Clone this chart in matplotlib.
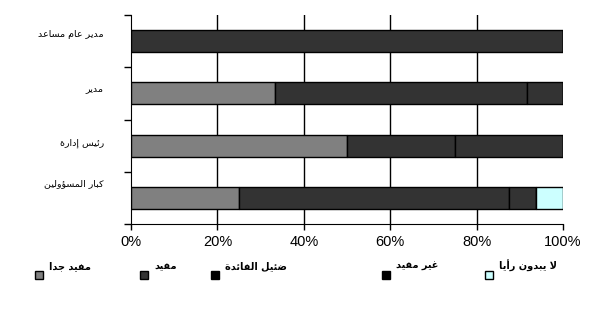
import matplotlib.pyplot as plt
from matplotlib.ticker import PercentFormatter

# --- data ---
groups = ["مدير عام مساعد", "مدير", "رئيس إدارة", "كبار المسؤولين"]
series = ["مفيد جدا", "مفيد", "ضئيل الفائدة", "غير مفيد", "لا يبدون رأيا"]
very_useful = [0.0, 33.3, 50.0, 25.0]
useful = [100.0, 58.4, 25.0, 62.5]
little_use = [0.0, 8.3, 25.0, 6.25]
not_useful = [0.0, 0.0, 0.0, 0.0]
no_opinion = [0.0, 0.0, 0.0, 6.25]

bar_colors = ["#808080", "#333333", "#333333", "#333333", "#CCFFFF"]
legend_colors = ["#808080", "#333333", "#000000", "#000000", "#CCFFFF"]

# --- simple arabic shaping (matplotlib has no bidi / joining) ---
_order = [(0x621, 1), (0x622, 2), (0x623, 2), (0x624, 2), (0x625, 2), (0x626, 4),
          (0x627, 2), (0x628, 4), (0x629, 2), (0x62A, 4), (0x62B, 4), (0x62C, 4),
          (0x62D, 4), (0x62E, 4), (0x62F, 2), (0x630, 2), (0x631, 2), (0x632, 2),
          (0x633, 4), (0x634, 4), (0x635, 4), (0x636, 4), (0x637, 4), (0x638, 4),
          (0x639, 4), (0x63A, 4), (0x641, 4), (0x642, 4), (0x643, 4), (0x644, 4),
          (0x645, 4), (0x646, 4), (0x647, 4), (0x648, 2), (0x649, 2), (0x64A, 4)]
FORMS = {}
_p = 0xFE80
for cp, n in _order:
    FORMS[chr(cp)] = (_p, n)
    _p += n
LAM_ALEF = {"\u0622": 0xFEF5, "\u0623": 0xFEF7, "\u0625": 0xFEF9, "\u0627": 0xFEFB}


def shape(text):
    out = []
    prev_joins = False
    i = 0
    while i < len(text):
        c = text[i]
        if c not in FORMS:
            out.append(c)
            prev_joins = False
            i += 1
            continue
        nxt = text[i + 1] if i + 1 < len(text) else ""
        if c == "\u0644" and nxt in LAM_ALEF:
            out.append(chr(LAM_ALEF[nxt] + (1 if prev_joins else 0)))
            prev_joins = False
            i += 2
            continue
        base, n = FORMS[c]
        next_ar = nxt in FORMS
        if n == 4:
            if prev_joins and next_ar:
                f = 3
            elif prev_joins:
                f = 1
            elif next_ar:
                f = 2
            else:
                f = 0
        elif n == 2:
            f = 1 if prev_joins else 0
        else:
            f = 0
        out.append(chr(base + f))
        prev_joins = (n == 4)
        i += 1
    return "".join(reversed(out))


plt.rcParams['font.family'] = ['DejaVu Sans']

fig = plt.figure(figsize=(6.13, 3.34), dpi=100)
ax = fig.add_axes([131 / 613, 110 / 334, 432 / 613, 209 / 334])

ypos = list(range(len(groups)))
left = [0.0] * len(groups)
for vals, col in zip([very_useful, useful, little_use, not_useful, no_opinion], bar_colors):
    ax.barh(ypos, vals, left=left, height=0.42, color=col, edgecolor="black", linewidth=1, zorder=3)
    left = [a + b for a, b in zip(left, vals)]

ax.set_xlim(0, 100)
ax.set_ylim(len(groups) - 0.5, -0.5)
ax.xaxis.set_major_formatter(PercentFormatter(decimals=0))
ax.set_xticks([0, 20, 40, 60, 80, 100])
for x in [20, 40, 60, 80]:
    ax.axvline(x, color="black", linewidth=1, zorder=1)
for lab in ax.get_xticklabels():
    lab.set_fontfamily("Liberation Sans")
    lab.set_fontsize(10.5)
ax.tick_params(axis="x", length=4, width=1, pad=4, color="black")

ax.set_yticks([-0.5, 0.5, 1.5, 2.5, 3.5])
ax.set_yticklabels([])
ax.tick_params(axis="y", length=5, width=1)
ax.spines["top"].set_visible(False)
ax.spines["right"].set_visible(False)

# category labels, sitting a little above each bar centre
label_dy = [0.12, 0.1, 0.05, 0.27]
for i, g in enumerate(groups):
    ax.text(-0.063, i - label_dy[i], shape(g), transform=ax.get_yaxis_transform(),
            ha="right", va="center", fontsize=6.8)

# legend: squares with the text raised beside them
sq_x = [35, 140, 211, 382, 485]
for name, col, x in zip(series, legend_colors, sq_x):
    fig.patches.append(plt.Rectangle((x / 613, (334 - 279) / 334), 8 / 613, 8 / 334,
                                     transform=fig.transFigure, facecolor=col,
                                     edgecolor="black", linewidth=1))
    fig.text((x + 14) / 613, (334 - 266) / 334, shape(name), ha="left", va="center",
             fontsize=7, fontweight="bold")

fig.savefig("out.png", dpi=100)
